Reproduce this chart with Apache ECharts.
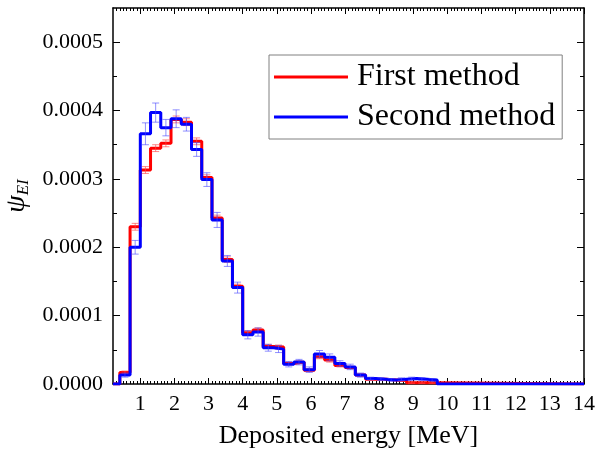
<!DOCTYPE html>
<html><head><meta charset="utf-8">
<script src="https://cdn.jsdelivr.net/npm/echarts@6/dist/echarts.min.js"></script>
<style>html,body{margin:0;padding:0;background:#fff}#c{width:597px;height:452px}</style>
</head><body><div id="c"></div>
<script>
// Bin left edges (MeV), bin width 0.3 MeV
const binStart = [0.4,0.7,1.0,1.3,1.6,1.9,2.2,2.5,2.8,3.1,3.4,3.7,4.0,4.3,4.6,4.9,5.2,5.5,5.8,6.1,6.4,6.7,7.0,7.3,7.6,7.9,8.2,8.5,8.8,9.1,9.4];
const binWidth = 0.3;
const firstMethod = [0.17e-4,2.30e-4,3.13e-4,3.45e-4,3.52e-4,3.87e-4,3.83e-4,3.55e-4,3.02e-4,2.43e-4,1.82e-4,1.43e-4,0.75e-4,0.79e-4,0.55e-4,0.54e-4,0.30e-4,0.32e-4,0.20e-4,0.40e-4,0.35e-4,0.27e-4,0.24e-4,0.13e-4,0.07e-4,0.07e-4,0.06e-4,0.05e-4,0.02e-4,0.02e-4,0.02e-4];
const secondMethod = [0.13e-4,2.00e-4,3.66e-4,3.97e-4,3.75e-4,3.88e-4,3.80e-4,3.43e-4,2.99e-4,2.40e-4,1.80e-4,1.41e-4,0.72e-4,0.76e-4,0.53e-4,0.51e-4,0.29e-4,0.32e-4,0.21e-4,0.44e-4,0.39e-4,0.30e-4,0.25e-4,0.13e-4,0.08e-4,0.07e-4,0.06e-4,0.07e-4,0.08e-4,0.07e-4,0.06e-4];
const firstErr = [0.02e-4,0.05e-4,0.05e-4,0.05e-4,0.05e-4,0.05e-4,0.05e-4,0.05e-4,0.04e-4,0.04e-4,0.04e-4,0.03e-4,0.03e-4,0.03e-4,0.03e-4,0.03e-4,0.02e-4,0.02e-4,0.02e-4,0.03e-4,0.03e-4,0.02e-4,0.02e-4,0.02e-4,0.01e-4,0.01e-4,0.01e-4,0.01e-4,0.01e-4,0.01e-4,0.01e-4];
const secondErr = [0.03e-4,0.10e-4,0.16e-4,0.14e-4,0.12e-4,0.13e-4,0.10e-4,0.10e-4,0.10e-4,0.11e-4,0.08e-4,0.08e-4,0.06e-4,0.06e-4,0.05e-4,0.05e-4,0.04e-4,0.04e-4,0.04e-4,0.05e-4,0.05e-4,0.04e-4,0.04e-4,0.03e-4,0.02e-4,0.02e-4,0.02e-4,0.02e-4,0.02e-4,0.02e-4,0.02e-4];
const xTickLabels = [1,2,3,4,5,6,7,8,9,10,11,12,13,14];
const yTickLabels = [0,0.0001,0.0002,0.0003,0.0004,0.0005];
const seriesNames = ['First method','Second method'];

const X_MIN = 0.2, X_MAX = 14, Y_MIN = 0, Y_MAX = 0.00055;
const FONT = '"Liberation Serif","Times New Roman",serif';

function stepPoints(vals) {
  const pts = [[X_MIN, 0]];
  for (let i = 0; i < vals.length; i++) pts.push([binStart[i], vals[i]]);
  pts.push([binStart[binStart.length - 1] + binWidth, 0]);
  pts.push([X_MAX, 0]);
  return pts;
}
function errPoints(vals, errs) {
  return vals.map((v, i) => [binStart[i] + binWidth / 2, v, errs[i]]);
}
function errRender(color) {
  return function (params, api) {
    const x = api.value(0), y = api.value(1), e = api.value(2);
    const t = api.coord([x, y + e]), b = api.coord([x, y - e]);
    const c = 3.5;
    const st = { stroke: color, lineWidth: 1 };
    return { type: 'group', children: [
      { type: 'line', shape: { x1: t[0], y1: t[1], x2: b[0], y2: b[1] }, style: st },
      { type: 'line', shape: { x1: t[0] - c, y1: t[1], x2: t[0] + c, y2: t[1] }, style: st },
      { type: 'line', shape: { x1: b[0] - c, y1: b[1], x2: b[0] + c, y2: b[1] }, style: st }
    ]};
  };
}
const xMinor = [], yMinor = [];
for (let k = 3; k < 140; k++) if (k % 10 !== 0) xMinor.push(k / 10);
for (let k = 0; k < 5; k++) yMinor.push((2 * k + 1) * 0.00005);

const lineCol = { color: '#000', width: 1.5 };
const gridRect = { left: 113, top: 8, width: 471, height: 376, containLabel: false, outerBoundsMode: 'none' };
function xAx(grid, pos, vals, len, showLine, labels) {
  return {
    type: 'value', gridIndex: grid, position: pos, min: X_MIN, max: X_MAX,
    axisLine: { show: showLine, lineStyle: lineCol, onZero: false },
    axisTick: { show: true, inside: true, length: len, customValues: vals, lineStyle: { color: '#000', width: 1 } },
    axisLabel: labels ? { show: true, customValues: xTickLabels, fontFamily: FONT, fontSize: 22, color: '#000', margin: 9 } : { show: false },
    splitLine: { show: false }
  };
}
function yAx(grid, pos, vals, len, showLine, labels) {
  return {
    type: 'value', gridIndex: grid, position: pos, min: Y_MIN, max: Y_MAX,
    axisLine: { show: showLine, lineStyle: lineCol, onZero: false },
    axisTick: { show: true, inside: true, length: len, customValues: vals, lineStyle: { color: '#000', width: 1 } },
    axisLabel: labels ? { show: true, customValues: yTickLabels, fontFamily: FONT, fontSize: 22, color: '#000', margin: 10,
      formatter: v => v.toFixed(4) } : { show: false },
    splitLine: { show: false }
  };
}
const xMain = xAx(0, 'bottom', xTickLabels, 6, true, true);
xMain.name = 'Deposited energy [MeV]';
xMain.nameLocation = 'middle';
xMain.nameGap = 39;
xMain.nameTextStyle = { fontFamily: FONT, fontSize: 26, color: '#000' };
const yMain = yAx(0, 'left', yTickLabels, 7, true, true);
yMain.name = '{a|ψ}{b|EI}';
yMain.nameLocation = 'middle';
yMain.nameGap = 80;
yMain.nameTextStyle = { rich: {
  a: { fontFamily: FONT, fontStyle: 'italic', fontSize: 28, color: '#000' },
  b: { fontFamily: FONT, fontStyle: 'italic', fontSize: 17, color: '#000', padding: [12, 0, 0, 0] }
}};

const chart = echarts.init(document.getElementById('c'), null, { renderer: 'canvas' });
chart.setOption({
  animation: false,
  backgroundColor: '#fff',
  grid: [Object.assign({}, gridRect), Object.assign({}, gridRect)],
  xAxis: [xMain, xAx(0, 'top', xTickLabels, 6, true, false), xAx(1, 'bottom', xMinor, 3, false, false), xAx(1, 'top', xMinor, 3, false, false)],
  yAxis: [yMain, yAx(0, 'right', yTickLabels, 7, true, false), yAx(1, 'left', yMinor, 4, false, false), yAx(1, 'right', yMinor, 4, false, false)],
  legend: {
    data: seriesNames, orient: 'vertical', left: 269, top: 55,
    icon: 'rect', itemWidth: 74, itemHeight: 3, itemGap: 4,
    borderColor: '#808080', borderWidth: 1, padding: [4, 7, 4, 5],
    textStyle: { fontFamily: FONT, fontSize: 32, color: '#000', lineHeight: 36, padding: [0, 0, 0, 4] }
  },
  series: [
    { name: seriesNames[0], type: 'line', xAxisIndex: 0, yAxisIndex: 0, step: 'end', symbol: 'none',
      data: stepPoints(firstMethod), lineStyle: { color: '#ff0000', width: 3 }, itemStyle: { color: '#ff0000' }, z: 2 },
    { name: 'firstErr', type: 'custom', xAxisIndex: 0, yAxisIndex: 0, renderItem: errRender('rgba(255,70,70,0.65)'),
      data: errPoints(firstMethod, firstErr), z: 3 },
    { name: seriesNames[1], type: 'line', xAxisIndex: 0, yAxisIndex: 0, step: 'end', symbol: 'none',
      data: stepPoints(secondMethod), lineStyle: { color: '#0000ff', width: 3 }, itemStyle: { color: '#0000ff' }, z: 4 },
    { name: 'secondErr', type: 'custom', xAxisIndex: 0, yAxisIndex: 0, renderItem: errRender('rgba(70,70,255,0.6)'),
      data: errPoints(secondMethod, secondErr), z: 5 }
  ]
});
</script></body></html>
